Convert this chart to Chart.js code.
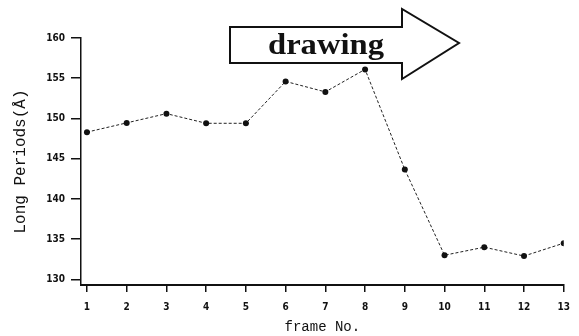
<!DOCTYPE html>
<html>
<head>
<meta charset="utf-8">
<script src="https://cdn.jsdelivr.net/npm/chart.js@4.4.0/dist/chart.umd.min.js"></script>
<style>
  html, body { margin: 0; padding: 0; background: #fff; }
  #wrap { width: 579px; height: 336px; }
</style>
</head>
<body>
<div id="wrap"><canvas id="myChart" width="579" height="336"></canvas></div>
<script>
// frame numbers and long periods
var frames = [1, 2, 3, 4, 5, 6, 7, 8, 9, 10, 11, 12, 13];
var periods = [148.3, 149.45, 150.6, 149.4, 149.4, 154.6, 153.3, 156.1, 143.65, 133.0, 134.0, 132.9, 134.5];
var yTicks = [130, 135, 140, 145, 150, 155, 160];
var xTicks = [1, 2, 3, 4, 5, 6, 7, 8, 9, 10, 11, 12, 13];
var arrowLabel = "drawing";

var points = [];
for (var i = 0; i < frames.length; i++) {
	points.push({ x: frames[i], y: periods[i] });
}

// big outlined arrow with the label in it
var arrowPlugin = {
	id: "arrow",
	afterDatasetsDraw: function (chart) {
		var c = chart.ctx;
		c.save();
		c.beginPath();
		c.moveTo(230, 27);
		c.lineTo(402, 27);
		c.lineTo(402, 9);
		c.lineTo(459, 43);
		c.lineTo(402, 79);
		c.lineTo(402, 63);
		c.lineTo(230, 63);
		c.closePath();
		c.fillStyle = "#fff";
		c.fill();
		c.lineWidth = 2;
		c.strokeStyle = "#111";
		c.stroke();

		c.font = "bold 29px 'Liberation Serif'";
		c.fillStyle = "#111";
		c.textBaseline = "alphabetic";
		var w = c.measureText(arrowLabel).width;
		var sx = 116 / w;
		c.translate(268, 54);
		c.scale(sx, 1);
		c.fillText(arrowLabel, 0, 0);
		c.restore();
	},
};

var tickFont = { family: "'DejaVu Sans Condensed'", size: 10, weight: "bold" };

var myChart = new Chart(document.getElementById("myChart"), {
	type: "line",
	data: {
		datasets: [
			{
				data: points,
				borderColor: "#222",
				borderWidth: 1,
				borderDash: [3, 2],
				pointRadius: 3,
				pointBackgroundColor: "#111",
				pointBorderColor: "#111",
				pointBorderWidth: 0,
				fill: false,
				tension: 0,
			},
		],
	},
	options: {
		responsive: false,
		animation: false,
		layout: { padding: { left: 0, right: 13, top: 38, bottom: 0 } },
		plugins: {
			legend: { display: false },
			tooltip: { enabled: false },
		},
		scales: {
			x: {
				type: "linear",
				min: 0.85,
				max: 13,
				afterBuildTicks: function (s) {
					s.ticks = xTicks.map(function (v) { return { value: v }; });
				},
				afterFit: function (s) { s.height = 51; },
				grid: { drawOnChartArea: false, drawTicks: true, tickLength: 7, color: "#111", lineWidth: 1.5 },
				border: { display: true, color: "#111", width: 2 },
				ticks: { color: "#111", font: tickFont, padding: 9, autoSkip: false, maxRotation: 0 },
				title: {
					display: true,
					text: "frame No.",
					color: "#111",
					font: { family: "'Liberation Mono'", size: 14 },
					padding: { top: 0, bottom: 0 },
				},
			},
			y: {
				min: 129.3,
				max: 160,
				afterBuildTicks: function (s) {
					s.ticks = yTicks.map(function (v) { return { value: v }; });
				},
				afterFit: function (s) { s.width = 81; },
				grid: { drawOnChartArea: false, drawTicks: true, tickLength: 10, color: "#111", lineWidth: 1.5 },
				border: { display: true, color: "#111", width: 1.5 },
				ticks: { color: "#111", font: tickFont, padding: 6 },
				title: {
					display: true,
					text: "Long Periods(Å)",
					color: "#111",
					font: { family: "'Liberation Mono'", size: 16 },
					padding: { top: 11, bottom: 0 },
				},
			},
		},
	},
	plugins: [arrowPlugin],
});
</script>
</body>
</html>
